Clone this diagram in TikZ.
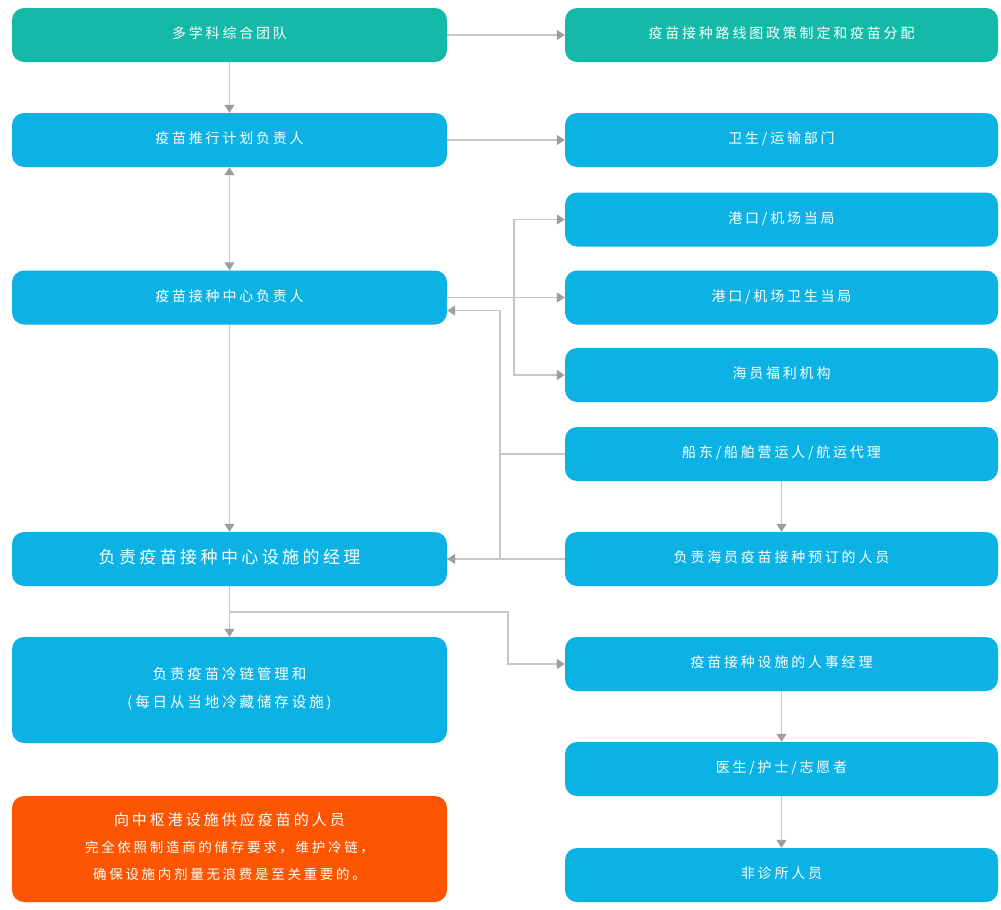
\documentclass[tikz,border=0pt]{standalone}
\usepackage{fontspec}
\newfontfamily\cjk[LetterSpace=20]{Noto Sans CJK SC}
\usetikzlibrary{arrows.meta}
\definecolor{teal1}{HTML}{14B9A8}
\definecolor{blue1}{HTML}{0CB2E4}
\definecolor{orange1}{HTML}{FE5502}
\definecolor{linegray}{HTML}{C6C6C6}
\definecolor{tipgray}{HTML}{9E9E9E}
\newcommand\bt[2][3pt]{\raisebox{#1}{\begin{tabular}{@{}c@{}}#2\end{tabular}}}
\begin{document}
\begin{tikzpicture}[x=1pt,y=-1pt,
  box/.style={rectangle, rounded corners=12pt, minimum height=54pt, inner sep=0pt,
    text=white, font=\cjk\fontsize{14}{18}\selectfont, align=center},
  lbox/.style={box, minimum width=435pt},
  rbox/.style={box, minimum width=433pt},
  bluebox/.style={fill=blue1},
  tealbox/.style={fill=teal1},
  link/.style={draw=linegray, line width=1.4pt},
  conn/.style={link, -{Triangle[length=8pt,width=10pt,color=tipgray]}},
  bconn/.style={link, {Triangle[length=8pt,width=10pt,color=tipgray]}-{Triangle[length=8pt,width=10pt,color=tipgray]}}]
\useasboundingbox (0,0) rectangle (1001,910);
\fill[white] (0,0) rectangle (1001,910);
% left column
\node[lbox, tealbox] (b1) at (229.5,35) {\bt{多学科综合团队}};
\node[lbox, bluebox] (b3) at (229.5,140) {\bt{疫苗推行计划负责人}};
\node[lbox, bluebox] (b6) at (229.5,297.5) {\bt{疫苗接种中心负责人}};
\node[lbox, bluebox, font=\cjk\fontsize{17}{20}\selectfont] (b10) at (229.5,559) {\bt{负责疫苗接种中心设施的经理}};
\node[lbox, bluebox, minimum height=106pt, font=\cjk\fontsize{14.5}{18}\selectfont] (b12) at (229.5,690) {\bt[12pt]{负责疫苗冷链管理和\\[10pt](每日从当地冷藏储存设施)}};
\node[lbox, fill=orange1, minimum height=106pt, font=\cjk\fontsize{13.5}{18}\selectfont] (b15) at (229.5,849)
  {\bt[3pt]{{\fontsize{15}{18}\selectfont 向中枢港设施供应疫苗的人员}\\[9pt]完全依照制造商的储存要求，维护冷链，\\[9pt]确保设施内剂量无浪费是至关重要的。}};
% right column
\node[rbox, tealbox] (b2) at (781.5,35) {\bt{疫苗接种路线图政策制定和疫苗分配}};
\node[rbox, bluebox] (b4) at (781.5,140) {\bt{卫生/运输部门}};
\node[rbox, bluebox] (b5) at (781.5,219.5) {\bt{港口/机场当局}};
\node[rbox, bluebox] (b7) at (781.5,297.5) {\bt{港口/机场卫生当局}};
\node[rbox, bluebox] (b8) at (781.5,375) {\bt{海员福利机构}};
\node[rbox, bluebox] (b9) at (781.5,454) {\bt{船东/船舶营运人/航运代理}};
\node[rbox, bluebox] (b11) at (781.5,559) {\bt{负责海员疫苗接种预订的人员}};
\node[rbox, bluebox] (b13) at (781.5,664) {\bt{疫苗接种设施的人事经理}};
\node[rbox, bluebox] (b14) at (781.5,769) {\bt{医生/护士/志愿者}};
\node[rbox, bluebox] (b16) at (781.5,875) {\bt{非诊所人员}};
% junction points
\coordinate (j1) at (514,297.5);
\coordinate (j2) at (500,454);
\coordinate (j3) at (229.5,612);
\coordinate (j4) at (508,612);
% connectors
\draw[conn] (b1) -- (b2);
\draw[conn] (b1) -- (b3);
\draw[conn] (b3) -- (b4);
\draw[bconn] (b3) -- (b6);
\draw[conn] (b6) -- (b7);
\draw[conn] (j1) |- (b5.west);
\draw[conn] (j1) |- (b8.west);
\draw[conn] (b9.west) -- (j2) |- ([yshift=-13pt]b6.east);
\draw[link] (j2) |- (b10.east);
\draw[conn] (b11) -- (b10);
\draw[conn] (b6) -- (b10);
\draw[conn] (b9) -- (b11);
\draw[conn] (b10) -- (b12);
\draw[conn] (j3) -- (j4) |- (b13.west);
\draw[conn] (b13) -- (b14);
\draw[conn] (b14) -- (b16);
\end{tikzpicture}
\end{document}
